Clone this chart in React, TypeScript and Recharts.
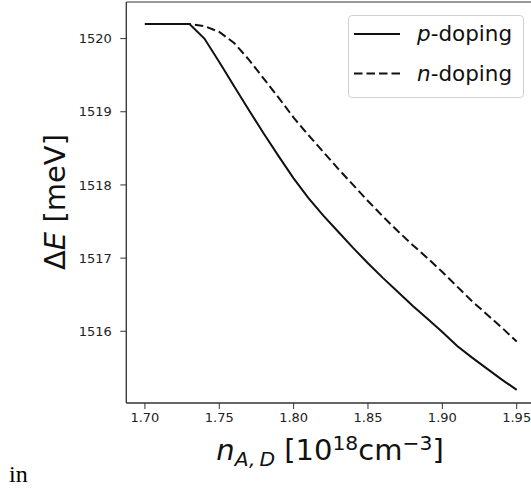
import React from "react";
import { LineChart, Line, XAxis, YAxis, ReferenceArea, Legend } from "recharts";

// doping concentration, 10^18 cm^-3
const xs = [
  1.7, 1.71, 1.72, 1.73, 1.74, 1.75, 1.76, 1.77, 1.78, 1.79, 1.8, 1.81, 1.82,
  1.83, 1.84, 1.85, 1.86, 1.87, 1.88, 1.89, 1.9, 1.91, 1.92, 1.93, 1.94, 1.95,
];

// band gap, meV
const pDoping = [
  1520.2, 1520.2, 1520.2, 1520.2, 1520.0, 1519.68, 1519.35, 1519.02, 1518.7,
  1518.39, 1518.09, 1517.82, 1517.58, 1517.36, 1517.14, 1516.93, 1516.73,
  1516.54, 1516.35, 1516.17, 1515.99, 1515.8, 1515.64, 1515.49, 1515.34, 1515.2,
];
const nDoping = [
  1520.2, 1520.2, 1520.2, 1520.2, 1520.17, 1520.09, 1519.94, 1519.71, 1519.45,
  1519.19, 1518.92, 1518.68, 1518.45, 1518.22, 1518.0, 1517.78, 1517.57,
  1517.37, 1517.18, 1517.0, 1516.81, 1516.61, 1516.41, 1516.23, 1516.05, 1515.86,
];

const xTicks = [1.7, 1.75, 1.8, 1.85, 1.9, 1.95];
const yTicks = [1516, 1517, 1518, 1519, 1520];

const data = xs.map((x, i) => ({ x, p: pDoping[i], n: nDoping[i] }));

const FONT = "DejaVu Sans";
const INK = "#111";
const DASH = "8.5 4";

const xDomain: [number, number] = [1.6875, 1.9625];
const yDomain: [number, number] = [1515.02, 1520.5];

const XTitle = () => (
  <text x={330} y={460} textAnchor="middle" fontSize={29} fontFamily={FONT} fill={INK} style={{ whiteSpace: "pre" }}>
    <tspan fontStyle="italic">n</tspan>
    <tspan fontSize={20.3} fontStyle="italic" dy={6}>{"A,\u2009D"}</tspan>
    <tspan dy={-6}> [10</tspan>
    <tspan fontSize={20.3} dy={-10}>18</tspan>
    <tspan dy={10}>cm</tspan>
    <tspan fontSize={20.3} dy={-10}>−3</tspan>
    <tspan dy={10}>]</tspan>
  </text>
);

const YTitle = () => (
  <text
    x={65}
    y={202}
    transform="rotate(-90, 65, 202)"
    textAnchor="middle"
    fontSize={29}
    fontFamily={FONT}
    fill={INK}
    style={{ whiteSpace: "pre" }}
  >
    <tspan>Δ</tspan>
    <tspan fontStyle="italic">E</tspan>
    <tspan> [meV]</tspan>
  </text>
);

const legendRows = [
  { sym: "p", rest: "-doping", dash: undefined as string | undefined },
  { sym: "n", rest: "-doping", dash: DASH },
];

const LegendBox = () => (
  <div
    style={{
      width: 176,
      height: 83,
      boxSizing: "border-box",
      border: "1px solid #d2d2d2",
      borderRadius: 4,
      background: "rgba(255,255,255,0.8)",
    }}
  >
    <svg width={174} height={81} style={{ display: "block" }}>
      {legendRows.map((r, i) => (
        <g key={r.sym}>
          <line x1={5} x2={51} y1={18 + i * 39.4} y2={18 + i * 39.4} stroke={INK} strokeWidth={2} strokeDasharray={r.dash} />
          <text x={68} y={24.5 + i * 40} fontSize={21.5} fontFamily={FONT} fill={INK}>
            <tspan fontStyle="italic">{r.sym}</tspan>
            <tspan>{r.rest}</tspan>
          </text>
        </g>
      ))}
    </svg>
  </div>
);

export default function App() {
  return (
    <div style={{ position: "absolute", left: 0, top: 0, width: 531, height: 493, overflow: "hidden", background: "#fff" }}>
      <LineChart width={560} height={493} data={data} margin={{ top: 2, right: 24.7, bottom: 0, left: 0 }}>
        <XAxis
          type="number"
          dataKey="x"
          domain={xDomain}
          ticks={xTicks}
          allowDataOverflow
          tickFormatter={(v: number) => v.toFixed(2)}
          height={90}
          tickSize={6}
          tickMargin={4}
          stroke="#333"
          tick={{ fill: "#222", fontSize: 13, fontFamily: FONT }}
          label={XTitle}
        />
        <YAxis
          type="number"
          domain={yDomain}
          ticks={yTicks}
          allowDataOverflow
          width={126.3}
          tickSize={6}
          tickMargin={8.5}
          stroke="#333"
          tick={{ fill: "#222", fontSize: 13, fontFamily: FONT }}
          label={YTitle}
        />
        <ReferenceArea
          x1={xDomain[0]}
          x2={xDomain[1]}
          y1={yDomain[0]}
          y2={yDomain[1]}
          fill="none"
          stroke="#333"
          strokeWidth={1}
          ifOverflow="visible"
        />
        <Line type="linear" dataKey="p" name="p-doping" stroke={INK} strokeWidth={2} dot={false} isAnimationActive={false} />
        <Line type="linear" dataKey="n" name="n-doping" stroke={INK} strokeWidth={2} strokeDasharray={DASH} dot={false} isAnimationActive={false} />
        <Legend
          content={LegendBox}
          layout="horizontal"
          verticalAlign="middle"
          align="center"
          wrapperStyle={{ position: "absolute", left: 347.5, top: 14.5, width: 176, height: 83 }}
        />
      </LineChart>
      <div style={{ position: "absolute", left: 9, top: 461, fontFamily: "Liberation Serif", fontSize: 24 }}>in</div>
    </div>
  );
}
